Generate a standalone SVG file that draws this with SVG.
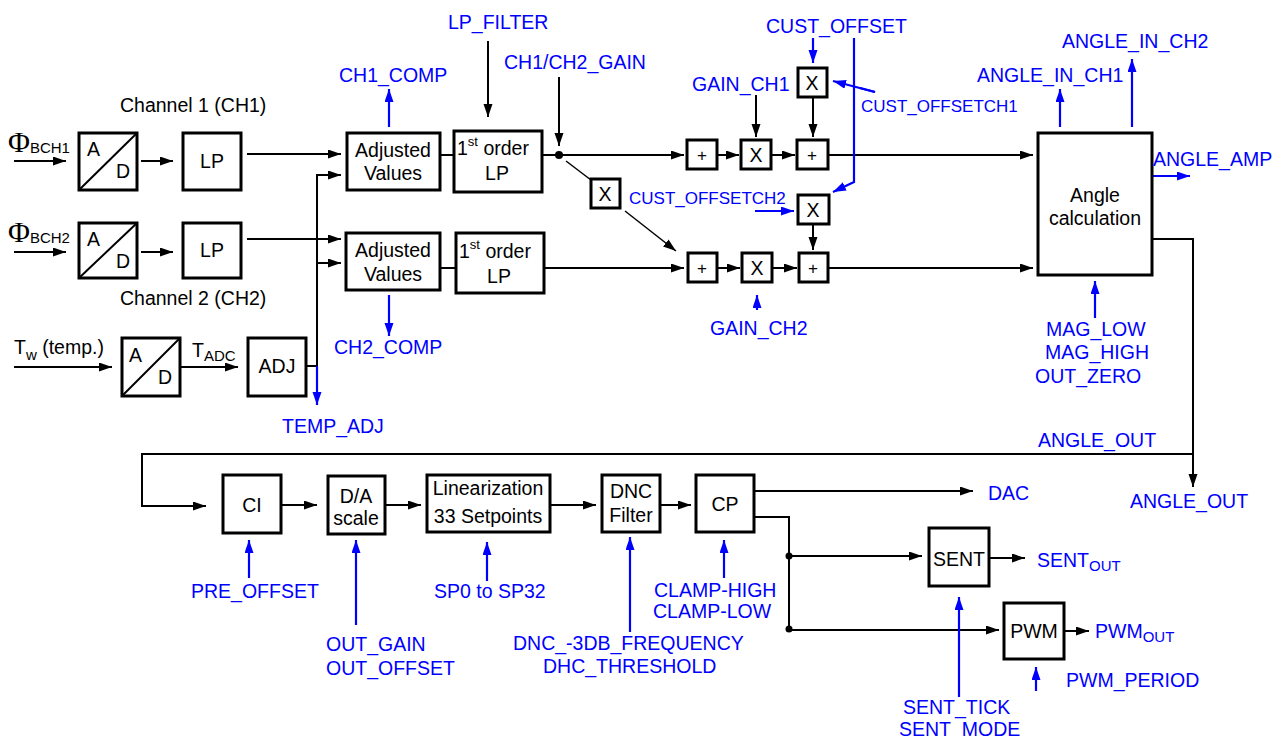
<svg xmlns="http://www.w3.org/2000/svg" width="1284" height="738" viewBox="0 0 1284 738">
<style>
text{font-family:"Liberation Sans",Arial,sans-serif;font-size:19.5px;fill:#000}
.b{fill:#0000ff}
.s{font-size:17px}
.sm{font-size:17px}
.sub{font-size:15px}
.phi{font-family:"Liberation Serif","Times New Roman",serif;font-size:30px}
.box{fill:#fff;stroke:#000;stroke-width:3}
.k{fill:none;stroke:#000;stroke-width:2}
.kt{fill:none;stroke:#000;stroke-width:1.5}
.u{fill:none;stroke:#0000ff;stroke-width:2.2}
.m{text-anchor:middle}
</style>
<defs>
<marker id="ak" markerUnits="userSpaceOnUse" markerWidth="14" markerHeight="10" refX="13" refY="4.5" orient="auto"><path d="M0,0 L13,4.5 L0,9 z" fill="#000"/></marker>
<marker id="ab" markerUnits="userSpaceOnUse" markerWidth="14" markerHeight="10" refX="13" refY="4.5" orient="auto"><path d="M0,0 L13,4.5 L0,9 z" fill="#0000ff"/></marker>
</defs>

<g id="connectors">
<line class="k" x1="14" y1="161" x2="66" y2="161" marker-end="url(#ak)"/>
<line class="k" x1="141" y1="161" x2="173" y2="161" marker-end="url(#ak)"/>
<line class="k" x1="14" y1="252" x2="66" y2="252" marker-end="url(#ak)"/>
<line class="k" x1="141" y1="252" x2="173" y2="252" marker-end="url(#ak)"/>
<line class="k" x1="247" y1="154" x2="341" y2="154" marker-end="url(#ak)"/>
<line class="k" x1="247" y1="239" x2="341" y2="239" marker-end="url(#ak)"/>
<polyline class="k" points="304,366 317,366 317,175 341,175" marker-end="url(#ak)"/>
<line class="k" x1="317" y1="263" x2="341" y2="263" marker-end="url(#ak)"/>
<line class="k" x1="14" y1="367" x2="112" y2="367" marker-end="url(#ak)"/>
<line class="k" x1="180" y1="367" x2="238" y2="367" marker-end="url(#ak)"/>
<line class="k" x1="440" y1="155" x2="454" y2="155"/>
<line class="k" x1="542" y1="155" x2="559" y2="155"/>
<circle cx="559" cy="155" r="4" fill="#000"/>
<line class="k" x1="559" y1="155" x2="684" y2="155" marker-end="url(#ak)"/>
<line class="k" x1="717" y1="155" x2="739" y2="155" marker-end="url(#ak)"/>
<line class="k" x1="771" y1="155" x2="795" y2="155" marker-end="url(#ak)"/>
<line class="k" x1="828" y1="155" x2="1033" y2="155" marker-end="url(#ak)"/>
<line class="k" x1="488" y1="41" x2="488" y2="117" marker-end="url(#ak)"/>
<line class="k" x1="559" y1="77" x2="559" y2="146" marker-end="url(#ak)"/>
<line class="k" x1="756" y1="95" x2="756" y2="137" marker-end="url(#ak)"/>
<line class="k" x1="813" y1="97" x2="813" y2="137" marker-end="url(#ak)"/>
<line class="kt" x1="566" y1="161" x2="591" y2="180"/>
<line class="kt" x1="625" y1="211" x2="676" y2="251" marker-end="url(#ak)"/>
<line class="k" x1="813" y1="224" x2="813" y2="250" marker-end="url(#ak)"/>
<line class="k" x1="440" y1="268" x2="456" y2="268"/>
<line class="k" x1="544" y1="268" x2="684" y2="268" marker-end="url(#ak)"/>
<line class="k" x1="717" y1="268" x2="740" y2="268" marker-end="url(#ak)"/>
<line class="k" x1="772" y1="268" x2="797" y2="268" marker-end="url(#ak)"/>
<line class="k" x1="828" y1="268" x2="1033" y2="268" marker-end="url(#ak)"/>
<polyline class="k" points="1152,239 1193,239 1193,487" marker-end="url(#ak)"/>
<polyline class="k" points="1193,454 142,454 142,506 206,506" marker-end="url(#ak)"/>
<line class="k" x1="281" y1="505" x2="317" y2="505" marker-end="url(#ak)"/>
<line class="k" x1="385" y1="505" x2="421" y2="505" marker-end="url(#ak)"/>
<line class="k" x1="550" y1="505" x2="596" y2="505" marker-end="url(#ak)"/>
<line class="k" x1="660" y1="505" x2="691" y2="505" marker-end="url(#ak)"/>
<line class="k" x1="754" y1="491" x2="973" y2="491" marker-end="url(#ak)"/>
<polyline class="k" points="754,517 789,517 789,629"/>
<circle cx="789" cy="556" r="3.5" fill="#000"/>
<circle cx="789" cy="629" r="3.5" fill="#000"/>
<line class="k" x1="789" y1="556" x2="922" y2="556" marker-end="url(#ak)"/>
<line class="k" x1="789" y1="630" x2="999" y2="630" marker-end="url(#ak)"/>
<line class="k" x1="989" y1="558" x2="1025" y2="558" marker-end="url(#ak)"/>
<line class="k" x1="1064" y1="631" x2="1089" y2="631" marker-end="url(#ak)"/>
<line class="u" x1="389" y1="127" x2="389" y2="89" marker-end="url(#ab)"/>
<line class="u" x1="389" y1="295" x2="389" y2="336" marker-end="url(#ab)"/>
<line class="u" x1="317" y1="366" x2="317" y2="405" marker-end="url(#ab)"/>
<line class="u" x1="813" y1="38" x2="813" y2="63" marker-end="url(#ab)"/>
<polyline class="u" points="854,38 854,182 833,192" marker-end="url(#ab)"/>
<polyline class="u" points="860,88 875,92"/>
<line class="u" x1="875" y1="92" x2="833" y2="81" marker-end="url(#ab)"/>
<line class="u" x1="755" y1="211" x2="794" y2="211" marker-end="url(#ab)"/>
<line class="u" x1="757" y1="310" x2="757" y2="295" marker-end="url(#ab)"/>
<line class="u" x1="1060" y1="127" x2="1060" y2="89" marker-end="url(#ab)"/>
<line class="u" x1="1132" y1="127" x2="1132" y2="59" marker-end="url(#ab)"/>
<line class="u" x1="1152" y1="176" x2="1190" y2="176" marker-end="url(#ab)"/>
<line class="u" x1="1095" y1="318" x2="1095" y2="281" marker-end="url(#ab)"/>
<line class="u" x1="249" y1="578" x2="249" y2="540" marker-end="url(#ab)"/>
<line class="u" x1="356" y1="625" x2="356" y2="540" marker-end="url(#ab)"/>
<line class="u" x1="487" y1="581" x2="487" y2="542" marker-end="url(#ab)"/>
<line class="u" x1="630" y1="632" x2="630" y2="537" marker-end="url(#ab)"/>
<line class="u" x1="724" y1="578" x2="724" y2="540" marker-end="url(#ab)"/>
<line class="u" x1="959" y1="697" x2="959" y2="597" marker-end="url(#ab)"/>
<line class="u" x1="1036" y1="691" x2="1036" y2="667" marker-end="url(#ab)"/>
</g>

<g id="ad1"><rect class="box" x="79" y="133" width="58" height="57"/><line class="k" x1="79" y1="190" x2="137" y2="133"/><text x="87" y="156">A</text><text x="116" y="178">D</text></g>
<g id="lp1"><rect class="box" x="183" y="133" width="58" height="57"/><text class="m" x="212" y="168">LP</text></g>
<g id="ad2"><rect class="box" x="79" y="223" width="58" height="55"/><line class="k" x1="79" y1="278" x2="137" y2="223"/><text x="87" y="246">A</text><text x="116" y="268">D</text></g>
<g id="lp2"><rect class="box" x="183" y="223" width="58" height="55"/><text class="m" x="212" y="257">LP</text></g>
<g id="ad3"><rect class="box" x="122" y="338" width="58" height="58"/><line class="k" x1="122" y1="396" x2="180" y2="338"/><text x="129" y="362">A</text><text x="158" y="384">D</text></g>
<g id="adj"><rect class="box" x="248" y="338" width="58" height="58"/><text class="m" x="277" y="373">ADJ</text></g>
<g id="adjusted1"><rect class="box" x="347" y="133" width="93" height="57"/><text class="m" x="393" y="157">Adjusted</text><text class="m" x="393" y="180">Values</text></g>
<g id="lpf1"><rect class="box" x="454" y="131" width="88" height="61"/><text x="457" y="155">1<tspan font-size="13" dy="-9">st</tspan><tspan dy="9"> order</tspan></text><text class="m" x="497" y="180">LP</text></g>
<g id="adjusted2"><rect class="box" x="346" y="233" width="94" height="57"/><text class="m" x="393" y="257">Adjusted</text><text class="m" x="393" y="281">Values</text></g>
<g id="lpf2"><rect class="box" x="456" y="233" width="88" height="60"/><text x="459" y="258">1<tspan font-size="13" dy="-9">st</tspan><tspan dy="9"> order</tspan></text><text class="m" x="499" y="283">LP</text></g>
<g id="sum1a"><rect class="box" x="687" y="140" width="30" height="29"/><text class="m sm" x="702" y="161">+</text></g>
<g id="mul1"><rect class="box" x="741" y="140" width="30" height="29"/><text class="m" x="756" y="162">X</text></g>
<g id="sum1b"><rect class="box" x="797" y="140" width="31" height="29"/><text class="m sm" x="812" y="161">+</text></g>
<g id="mulofs1"><rect class="box" x="798" y="68" width="29" height="29"/><text class="m" x="812" y="90">X</text></g>
<g id="mulcross"><rect class="box" x="591" y="179" width="29" height="29"/><text class="m" x="605" y="201">X</text></g>
<g id="mulofs2"><rect class="box" x="798" y="195" width="31" height="29"/><text class="m" x="813" y="217">X</text></g>
<g id="sum2a"><rect class="box" x="688" y="253" width="29" height="29"/><text class="m sm" x="702" y="274">+</text></g>
<g id="mul2"><rect class="box" x="742" y="253" width="30" height="29"/><text class="m" x="757" y="275">X</text></g>
<g id="sum2b"><rect class="box" x="799" y="253" width="29" height="29"/><text class="m sm" x="813" y="274">+</text></g>
<g id="angle"><rect class="box" x="1038" y="133" width="114" height="142"/><text class="m" x="1095" y="202">Angle</text><text class="m" x="1095" y="225">calculation</text></g>
<g id="ci"><rect class="box" x="223" y="475" width="58" height="58"/><text class="m" x="252" y="512">CI</text></g>
<g id="da"><rect class="box" x="328" y="476" width="57" height="58"/><text class="m" x="356" y="503">D/A</text><text class="m" x="356" y="525">scale</text></g>
<g id="lin"><rect class="box" x="427" y="475" width="123" height="57"/><text class="m" x="488" y="495">Linearization</text><text class="m" x="488" y="523">33 Setpoints</text></g>
<g id="dnc"><rect class="box" x="602" y="475" width="58" height="57"/><text class="m" x="631" y="498">DNC</text><text class="m" x="631" y="522">Filter</text></g>
<g id="cp"><rect class="box" x="696" y="475" width="58" height="57"/><text class="m" x="725" y="511">CP</text></g>
<g id="sent"><rect class="box" x="929" y="528" width="60" height="58"/><text class="m" x="959" y="566">SENT</text></g>
<g id="pwm"><rect class="box" x="1004" y="603" width="60" height="56"/><text class="m" x="1034" y="638">PWM</text></g>

<g id="labels">
<text x="120" y="112">Channel 1 (CH1)</text>
<text x="120" y="305">Channel 2 (CH2)</text>
<text x="8" y="152"><tspan class="phi">Φ</tspan><tspan class="sub" dy="1">BCH1</tspan></text>
<text x="8" y="242"><tspan class="phi">Φ</tspan><tspan class="sub" dy="1">BCH2</tspan></text>
<text x="14" y="354">T<tspan class="sub" dy="6">w</tspan><tspan dy="-6"> (temp.)</tspan></text>
<text x="192" y="357">T<tspan class="sub" dy="4">ADC</tspan></text>
</g>
<g id="params">
<text class="b" x="448" y="29">LP_FILTER</text>
<text class="b" x="339" y="82">CH1_COMP</text>
<text class="b" x="504" y="69">CH1/CH2_GAIN</text>
<text class="b" x="766" y="33">CUST_OFFSET</text>
<text class="b" x="692" y="91">GAIN_CH1</text>
<text class="b s" x="861" y="112">CUST_OFFSETCH1</text>
<text class="b s" x="629" y="204">CUST_OFFSETCH2</text>
<text class="b" x="710" y="335">GAIN_CH2</text>
<text class="b" x="977" y="82">ANGLE_IN_CH1</text>
<text class="b" x="1062" y="48">ANGLE_IN_CH2</text>
<text class="b" x="1153" y="166">ANGLE_AMP</text>
<text class="b" x="1046" y="336">MAG_LOW</text>
<text class="b" x="1045" y="359">MAG_HIGH</text>
<text class="b" x="1035" y="383">OUT_ZERO</text>
<text class="b" x="334" y="354">CH2_COMP</text>
<text class="b" x="282" y="433">TEMP_ADJ</text>
<text class="b" x="1038" y="447">ANGLE_OUT</text>
<text class="b" x="1130" y="508">ANGLE_OUT</text>
<text class="b" x="988" y="500">DAC</text>
<text class="b" x="1037" y="567">SENT<tspan class="sub" dy="4">OUT</tspan></text>
<text class="b" x="1095" y="638">PWM<tspan class="sub" dy="4">OUT</tspan></text>
<text class="b" x="1066" y="687">PWM_PERIOD</text>
<text class="b" x="191" y="598">PRE_OFFSET</text>
<text class="b" x="326" y="651">OUT_GAIN</text>
<text class="b" x="326" y="675">OUT_OFFSET</text>
<text class="b" x="434" y="598">SP0 to SP32</text>
<text class="b" x="513" y="650">DNC_-3DB_FREQUENCY</text>
<text class="b" x="543" y="673">DHC_THRESHOLD</text>
<text class="b" x="654" y="597">CLAMP-HIGH</text>
<text class="b" x="653" y="618">CLAMP-LOW</text>
<text class="b" x="903" y="714">SENT_TICK</text>
<text class="b" x="899" y="736">SENT_MODE</text>
</g>
</svg>
